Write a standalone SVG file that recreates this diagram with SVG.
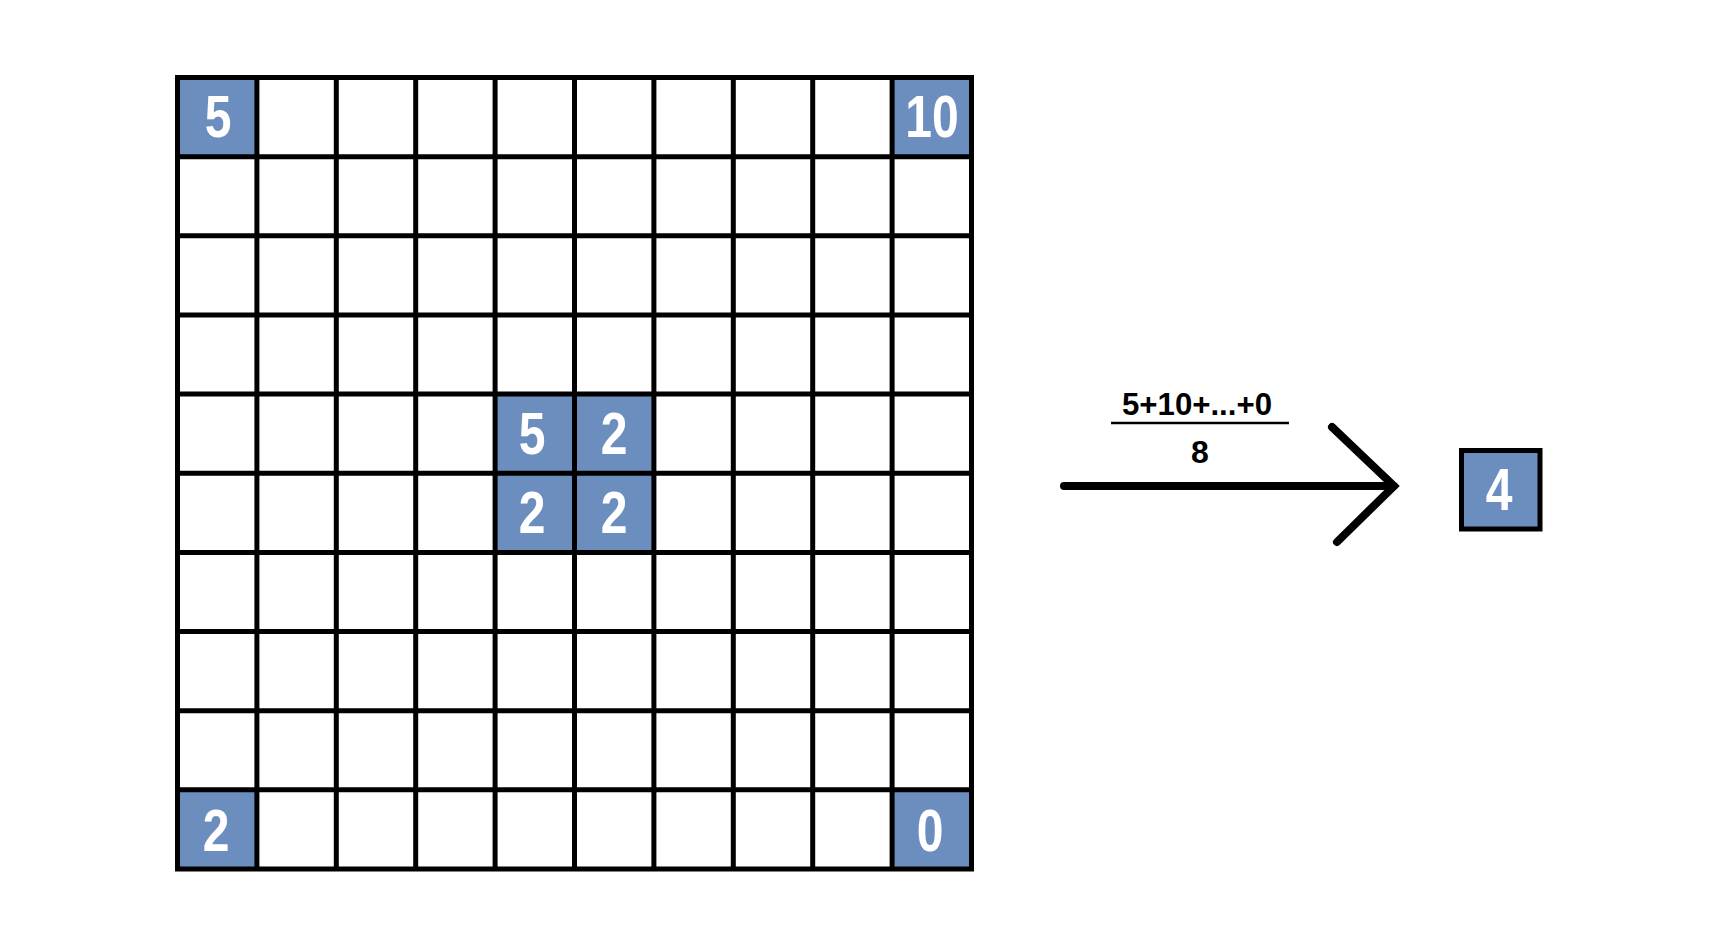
<svg xmlns="http://www.w3.org/2000/svg" width="1717" height="936" viewBox="0 0 1717 936">
<style>
.cell{fill:#6c8ebf;stroke:none}
.grid{stroke:#000;stroke-width:5;fill:none}
.num{font-family:"Liberation Sans",Arial,sans-serif;font-weight:bold;font-size:60px;fill:#fff;text-anchor:middle}
.lbl{font-family:"Liberation Sans",Arial,sans-serif;font-weight:bold;font-size:32px;fill:#000;text-anchor:middle}
</style>
<rect width="1717" height="936" fill="#fff"/>
<g id="grid">
<rect class="cell" x="177.5" y="77.5" width="79.4" height="79.15"/>
<rect class="cell" x="892.1" y="77.5" width="79.4" height="79.15"/>
<rect class="cell" x="495.1" y="394.1" width="158.8" height="158.3"/>
<rect class="cell" x="177.5" y="789.85" width="79.4" height="79.15"/>
<rect class="cell" x="892.1" y="789.85" width="79.4" height="79.15"/>
<path class="grid" d="M177.5 77.5H971.5V869H177.5Z M256.9 77.5V869 M336.3 77.5V869 M415.7 77.5V869 M495.1 77.5V869 M574.5 77.5V869 M653.9 77.5V869 M733.3 77.5V869 M812.7 77.5V869 M892.1 77.5V869 M177.5 156.65H971.5 M177.5 235.8H971.5 M177.5 314.95H971.5 M177.5 394.1H971.5 M177.5 473.25H971.5 M177.5 552.4H971.5 M177.5 631.55H971.5 M177.5 710.7H971.5 M177.5 789.85H971.5"/>
<text class="num" transform="translate(218,137) scale(0.8,1)">5</text>
<text class="num" transform="translate(932,137) scale(0.8,1)">10</text>
<text class="num" transform="translate(532,454) scale(0.8,1)">5</text>
<text class="num" transform="translate(614,454) scale(0.8,1)">2</text>
<text class="num" transform="translate(532,533) scale(0.8,1)">2</text>
<text class="num" transform="translate(614,533) scale(0.8,1)">2</text>
<text class="num" transform="translate(216,851) scale(0.8,1)">2</text>
<text class="num" transform="translate(930,851) scale(0.8,1)">0</text>
</g>
<g id="connectors">
<path d="M1064 486H1394 M1332 427L1394 486L1337 542" fill="none" stroke="#000" stroke-width="8" stroke-linecap="round" stroke-linejoin="miter"/>
</g>
<g id="formula">
<text class="lbl" x="1197" y="415" textLength="150" lengthAdjust="spacingAndGlyphs">5+10+...+0</text>
<line x1="1111" y1="423" x2="1289" y2="423" stroke="#000" stroke-width="2.5"/>
<text class="lbl" x="1200" y="463">8</text>
</g>
<g id="result">
<rect x="1461.5" y="450.5" width="78.5" height="78.5" fill="#6c8ebf" stroke="#000" stroke-width="5"/>
<text class="num" transform="translate(1499,510) scale(0.8,1)">4</text>
</g>
</svg>
